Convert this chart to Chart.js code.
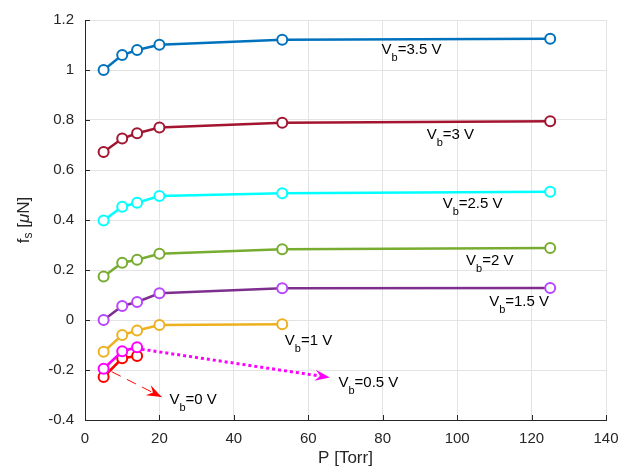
<!DOCTYPE html>
<html>
<head>
<meta charset="utf-8">
<script src="https://cdn.jsdelivr.net/npm/chart.js@4"></script>
<style>
    html, body { margin: 0; padding: 0; background: #fff; }
    #wrap { width: 630px; height: 475px; }
</style>
</head>
<body>
<div id="wrap"><canvas id="forceChart"></canvas></div>
<script>
// pressure [Torr]
var pressure = [5, 10, 14, 20, 53, 125];

// f_s [uN] for each bias voltage
var vb35 = [1.0, 1.06, 1.08, 1.101, 1.121, 1.125];
var vb30 = [0.672, 0.726, 0.747, 0.77, 0.789, 0.795];
var vb25 = [0.398, 0.453, 0.469, 0.496, 0.507, 0.513];
var vb20 = [0.174, 0.229, 0.241, 0.265, 0.283, 0.288];
var vb15 = [0.0, 0.056, 0.072, 0.107, 0.127, 0.128];
var vb10 = [-0.127, -0.06, -0.042, -0.02, -0.017];
var vb05 = [-0.195, -0.125, -0.109];
var vb00 = [-0.228, -0.153, -0.144];

var xTicks = [0, 20, 40, 60, 80, 100, 120, 140];
var yTicks = [-0.4, -0.2, 0, 0.2, 0.4, 0.6, 0.8, 1, 1.2];
var yTickLabels = ["-0.4", "-0.2", "0", "0.2", "0.4", "0.6", "0.8", "1", "1.2"];

// text labels, anchored in data units (left of "V", centre line)
var labelText = ["3.5 V", "3 V", "2.5 V", "2 V", "1.5 V", "1 V", "0.5 V", "0 V"];
var labelX = [79.7, 91.8, 96.1, 102.4, 108.6, 53.7, 68.1, 22.7];
var labelY = [1.085, 0.747, 0.469, 0.242, 0.080, -0.077, -0.245, -0.314];

function pts(ys) {
    var out = [];
    for (var i in ys) {
        out.push({ x: pressure[i], y: ys[i] });
    }
    return out;
}

function series(ys, line, marker, ord) {
    return {
        label: "",
        data: pts(ys),
        borderColor: line,
        borderWidth: 2.5,
        pointRadius: 5,
        pointBorderWidth: 2,
        pointBorderColor: marker,
        pointBackgroundColor: "#ffffff",
        fill: false,
        tension: 0,
        order: ord,
    };
}

var font = "'Liberation Sans', Arial, Helvetica, sans-serif";
var ink = "#262626";

function arrowHead(ctx, x1, y1, x2, y2, color, len, wid) {
    var a = Math.atan2(y2 - y1, x2 - x1);
    ctx.save();
    ctx.translate(x2, y2);
    ctx.rotate(a);
    ctx.fillStyle = color;
    ctx.beginPath();
    ctx.moveTo(0, 0);
    ctx.lineTo(-len, -wid / 2);
    ctx.lineTo(-len * 0.65, 0);
    ctx.lineTo(-len, wid / 2);
    ctx.closePath();
    ctx.fill();
    ctx.restore();
}

var extras = {
    id: "extras",
    afterDraw: function (chart) {
        var ctx = chart.ctx;
        var xs = chart.scales.x;
        var ys = chart.scales.y;
        var area = chart.chartArea;

        // inward tick marks
        ctx.save();
        ctx.strokeStyle = ink;
        ctx.lineWidth = 1;
        ctx.beginPath();
        xTicks.forEach(function (t) {
            var px = Math.round(xs.getPixelForValue(t)) + 0.5;
            ctx.moveTo(px, area.bottom);
            ctx.lineTo(px, area.bottom - 5);
        });
        yTicks.forEach(function (t) {
            var py = Math.round(ys.getPixelForValue(t)) + 0.5;
            ctx.moveTo(area.left, py);
            ctx.lineTo(area.left + 5, py);
        });
        ctx.stroke();
        ctx.restore();

        // V_b = 0.5 V dotted arrow
        var ax1 = xs.getPixelForValue(15.2), ay1 = ys.getPixelForValue(-0.117);
        var ax2 = xs.getPixelForValue(65.8), ay2 = ys.getPixelForValue(-0.23);
        var aa = Math.atan2(ay2 - ay1, ax2 - ax1);
        ctx.save();
        ctx.strokeStyle = "#ff00ff";
        ctx.lineWidth = 3;
        ctx.setLineDash([3, 3]);
        ctx.beginPath();
        ctx.moveTo(ax1, ay1);
        ctx.lineTo(ax2 - 10 * Math.cos(aa), ay2 - 10 * Math.sin(aa));
        ctx.stroke();
        ctx.restore();
        arrowHead(ctx, ax1, ay1, ax2, ay2, "#ff00ff", 15, 11);

        // V_b = 0 V dashed arrow
        var bx1 = xs.getPixelForValue(7.2), by1 = ys.getPixelForValue(-0.207);
        var bx2 = xs.getPixelForValue(20.6), by2 = ys.getPixelForValue(-0.308);
        ctx.save();
        ctx.strokeStyle = "#ff0000";
        ctx.lineWidth = 1;
        ctx.setLineDash([10, 7]);
        ctx.beginPath();
        ctx.moveTo(bx1, by1);
        ctx.lineTo(bx2, by2);
        ctx.stroke();
        ctx.restore();
        arrowHead(ctx, bx1, by1, bx2, by2, "#ff0000", 15, 11);

        // V_b labels
        ctx.save();
        ctx.fillStyle = "#000000";
        ctx.textBaseline = "alphabetic";
        ctx.textAlign = "left";
        for (var i in labelText) {
            var lx = xs.getPixelForValue(labelX[i]);
            var ly = ys.getPixelForValue(labelY[i]) + 5.5;
            ctx.font = "15px " + font;
            ctx.fillText("V", lx, ly);
            var w = ctx.measureText("V").width;
            ctx.font = "11px " + font;
            ctx.fillText("b", lx + w, ly + 7);
            var wb = ctx.measureText("b").width;
            ctx.font = "15px " + font;
            ctx.fillText("=" + labelText[i], lx + w + wb, ly);
        }
        ctx.restore();

        // x axis title
        ctx.save();
        ctx.fillStyle = ink;
        ctx.font = "17px " + font;
        ctx.textAlign = "center";
        ctx.textBaseline = "middle";
        ctx.fillText("P [Torr]", (area.left + area.right) / 2, 458);
        ctx.restore();

        // y axis title: f_s [uN]
        ctx.save();
        ctx.translate(24, (area.top + area.bottom) / 2);
        ctx.rotate(-Math.PI / 2);
        ctx.fillStyle = ink;
        ctx.textBaseline = "middle";
        ctx.textAlign = "left";
        var parts = [
            { t: "f", f: "17px " + font, dy: 0 },
            { t: "s", f: "12px " + font, dy: 5 },
            { t: " [", f: "17px " + font, dy: 0 },
            { t: "\u03bc", f: "italic 17px " + font, dy: 0 },
            { t: "N]", f: "17px " + font, dy: 0 },
        ];
        var total = 0;
        parts.forEach(function (p) {
            ctx.font = p.f;
            p.w = ctx.measureText(p.t).width;
            total += p.w;
        });
        var cx = -total / 2;
        parts.forEach(function (p) {
            ctx.font = p.f;
            ctx.fillText(p.t, cx, p.dy);
            cx += p.w;
        });
        ctx.restore();
    },
};

var ctx = document.getElementById("forceChart").getContext("2d");
var chart = new Chart(ctx, {
    type: "line",
    data: {
        datasets: [
            series(vb35, "#0072bd", "#0072bd", 8),
            series(vb30, "#a2142f", "#a2142f", 7),
            series(vb25, "#00ffff", "#00ffff", 6),
            series(vb20, "#77ac30", "#77ac30", 5),
            series(vb15, "#7e2f8e", "#b845ff", 4),
            series(vb10, "#edb120", "#edb120", 3),
            series(vb05, "#ff00ff", "#ff00ff", 1),
            series(vb00, "#ff0000", "#ff0000", 2),
        ],
    },
    options: {
        responsive: true,
        maintainAspectRatio: false,
        animation: false,
        events: [],
        layout: {
            padding: { left: 0, top: 13, right: 24, bottom: 0 },
        },
        plugins: {
            legend: { display: false },
            tooltip: { enabled: false },
        },
        scales: {
            x: {
                type: "linear",
                min: 0,
                max: 140,
                afterFit: function (scale) {
                    scale.height = 55;
                },
                afterBuildTicks: function (scale) {
                    scale.ticks = xTicks.map(function (v) {
                        return { value: v };
                    });
                },
                ticks: {
                    color: ink,
                    padding: 10,
                    maxRotation: 0,
                    font: { family: font, size: 15 },
                },
                grid: { color: "#e3e3e3", drawTicks: false },
                border: { color: ink, width: 1 },
            },
            y: {
                type: "linear",
                min: -0.4,
                max: 1.2,
                afterFit: function (scale) {
                    scale.width = 85;
                },
                afterBuildTicks: function (scale) {
                    scale.ticks = yTicks.map(function (v) {
                        return { value: v };
                    });
                },
                ticks: {
                    color: ink,
                    padding: 11,
                    font: { family: font, size: 15 },
                    callback: function (value, index) {
                        return yTickLabels[index];
                    },
                },
                grid: { color: "#e3e3e3", drawTicks: false },
                border: { color: ink, width: 1 },
            },
        },
    },
    plugins: [extras],
});
</script>
</body>
</html>
